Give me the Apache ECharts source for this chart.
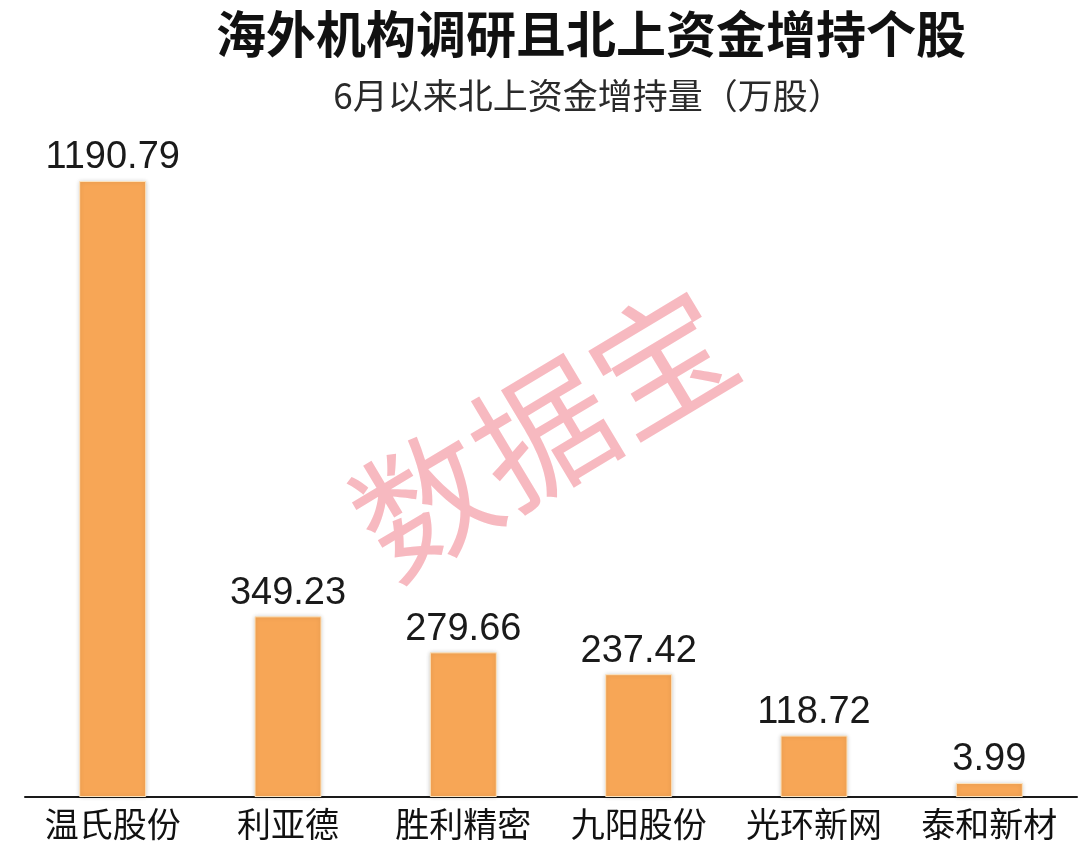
<!DOCTYPE html>
<html>
<head>
<meta charset="utf-8">
<script src="https://cdn.jsdelivr.net/npm/echarts@6/dist/echarts.min.js"></script>
<style>
html,body{margin:0;padding:0;background:#fff;}
#c{width:1080px;height:845px;}
</style>
</head>
<body>
<div id="c"></div>
<script>
const titleText = '海外机构调研且北上资金增持个股';
const subtitleText = '6月以来北上资金增持量（万股）';
const watermarkText = '数据宝';
const categories = ['温氏股份', '利亚德', '胜利精密', '九阳股份', '光环新网', '泰和新材'];
const values = [1190.79, 349.23, 279.66, 237.42, 118.72, 3.99];

const chart = echarts.init(document.getElementById('c'));
chart.setOption({
  backgroundColor: '#ffffff',
  animation: false,
  graphic: [
    {
      type: 'text', x: 591, y: 34, z: 10,
      style: {text: titleText, fontFamily: 'Noto Sans CJK SC', fontWeight: 'bold', fontSize: 50,
        fill: '#111', align: 'center', verticalAlign: 'middle'}
    },
    {
      type: 'text', x: 588, y: 96, z: 10,
      style: {text: subtitleText, fontFamily: 'Noto Sans CJK SC', fontWeight: 'normal', fontSize: 35,
        fill: '#2a2a2a', align: 'center', verticalAlign: 'middle'}
    },
    {
      type: 'text', x: 543, y: 432,
      rotation: 31 * Math.PI / 180,
      z: -10,
      style: {
        text: watermarkText, fontFamily: 'Noto Sans CJK SC', fontWeight: 'normal', fontSize: 138,
        fill: 'rgba(240,128,140,0.55)', align: 'center', verticalAlign: 'middle'
      }
    }
  ],
  grid: {left: 25, right: 3, top: 181, bottom: 48},
  xAxis: {
    type: 'category',
    data: categories,
    axisLine: {lineStyle: {color: '#1a1a1a', width: 2}},
    axisTick: {show: false},
    axisLabel: {interval: 0, fontFamily: 'Noto Sans CJK SC', fontSize: 34, color: '#111', margin: 10}
  },
  yAxis: {
    type: 'value', min: 0, max: 'dataMax', show: false, splitLine: {show: false}
  },
  series: [{
    type: 'bar',
    data: values,
    barWidth: 67,
    barMinHeight: 14,
    itemStyle: {
      color: '#F7A656',
      borderColor: '#FCE3BE',
      borderWidth: 1,
      shadowColor: 'rgba(0,0,0,0.18)',
      shadowBlur: 4
    },
    label: {
      show: true, position: 'top', distance: 4,
      fontFamily: 'Liberation Sans', fontSize: 38, color: '#1a1a1a',
      formatter: p => p.value.toFixed(2)
    }
  }]
});
</script>
</body>
</html>
